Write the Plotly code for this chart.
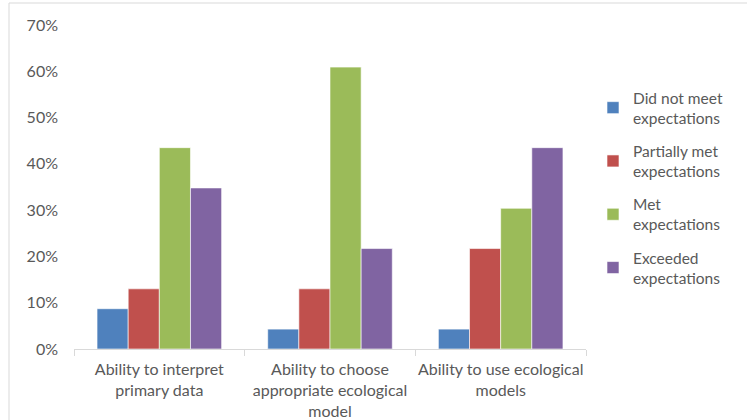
import plotly.graph_objects as go

categories = ["Ability to interpret<br>primary data",
              "Ability to choose<br>appropriate ecological<br>model",
              "Ability to use ecological<br>models"]
series_names = ["Did not meet<br>expectations", "Partially met<br>expectations",
                "Met<br>expectations", "Exceeded<br>expectations"]
did_not_meet = [0.087, 0.043, 0.043]
partially_met = [0.13, 0.13, 0.217]
met = [0.435, 0.609, 0.304]
exceeded = [0.348, 0.217, 0.435]
tick_vals = [0, 0.1, 0.2, 0.3, 0.4, 0.5, 0.6, 0.7]
tick_text = ["0%", "10%", "20%", "30%", "40%", "50%", "60%", "70%"]

colors = ["#4F81BD", "#C0504D", "#9BBB59", "#8064A2"]
values = [did_not_meet, partially_met, met, exceeded]

FONT = "Lato, Open Sans, sans-serif"
fig = go.Figure()
for i, (name, vals) in enumerate(zip(series_names, values)):
    fig.add_trace(go.Bar(x=categories, y=vals, name=name, legendgroup=str(i),
                         marker=dict(color=colors[i], line=dict(color="white", width=0.6))))

L, R, T, B = 74, 161, 25, 71
W, H = 747, 420
pw, ph = W - L - R, H - T - B

def px(x):
    return (x - L) / pw

def py(y):
    return (H - B - y) / ph

fig.update_layout(
    width=W, height=H,
    margin=dict(l=L, r=R, t=T, b=B, pad=0, autoexpand=False),
    paper_bgcolor="white", plot_bgcolor="white",
    barmode="group", bargap=0.27, bargroupgap=0,
    font=dict(family=FONT, size=16, color="#595959"),
    showlegend=True,
    legend=dict(x=px(593), xanchor="left", y=py(81), yanchor="top",
                tracegroupgap=10, font=dict(size=15.5, color="#595959"),
                itemwidth=30, bgcolor="rgba(0,0,0,0)"),
    xaxis=dict(showline=True, linecolor="#D9D9D9", linewidth=1,
               ticks="outside", tickson="boundaries", ticklen=6, tickcolor="#D9D9D9",
               ticklabelstandoff=6, tickangle=0, automargin=False,
               showgrid=False, tickfont=dict(size=16, color="#595959")),
    yaxis=dict(range=[0, 0.7], tickvals=tick_vals, ticktext=tick_text,
               showgrid=False, zeroline=False, showline=False, ticks="",
               ticklabelstandoff=15, automargin=False,
               tickfont=dict(size=16, color="#595959")),
    shapes=[
        dict(type="line", xref="paper", yref="paper", x0=px(9), x1=px(747), y0=py(3), y1=py(3),
             line=dict(color="#D9D9D9", width=1)),
        dict(type="line", xref="paper", yref="paper", x0=px(9), x1=px(9), y0=py(3), y1=py(420),
             line=dict(color="#D9D9D9", width=1)),
    ],
)
fig.write_html("out.html")
